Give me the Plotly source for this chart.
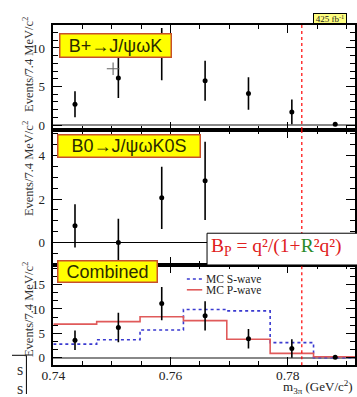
import plotly.graph_objects as go

W, H = 357, 397

# ---------------- data ----------------
bin_centers = [0.7437, 0.7511, 0.7585, 0.7659, 0.7733, 0.7807, 0.7881]
bin_edges = [0.7400, 0.7474, 0.7548, 0.7622, 0.7696, 0.7770, 0.7844, 0.7918]

bplus_y = [2.7, 6.1, 9.2, 5.75, 4.1, 1.7, 0.1]
bplus_err = [1.7, 2.6, 3.4, 2.6, 2.1, 1.6, 0.0]
bplus_extra_x = [0.7502]
bplus_extra_y = [7.3]

b0_x = [0.7437, 0.7511, 0.7585, 0.7659]
b0_y = [0.77, 0.0, 2.06, 2.84]
b0_err = [1.0, 1.1, 1.43, 1.8]

comb_y = [3.6, 6.2, 11.1, 8.6, 3.9, 1.9, 0.1]
comb_err = [2.0, 3.0, 3.4, 3.0, 2.0, 1.9, 0.0]

mc_swave = [2.8, 3.7, 5.7, 9.9, 9.6, 3.1, 0.0]
mc_pwave = [6.9, 7.4, 8.4, 7.6, 3.8, 0.9, 0.2]

kin_limit = 0.7824

x_ticks = [0.74, 0.76, 0.78]
x_ticktext = ["0.74", "0.76", "0.78"]
y1_ticks = [0, 5, 10]
y2_ticks = [0, 2, 4]
y3_ticks = [0, 5, 10, 15]

# ---------------- helpers ----------------
def px(xp):
    return xp / W

def py(yp):
    return 1 - yp / H

SERIF = "Liberation Serif"
SANS = "Liberation Sans"

fig = go.Figure()

def points(x, y, err, xa, ya):
    fig.add_trace(go.Scatter(
        x=x, y=y, mode="markers", xaxis=xa, yaxis=ya, showlegend=False,
        marker=dict(color="black", size=5),
        error_y=dict(type="data", array=err, visible=True, color="black",
                     thickness=1.6, width=0),
        cliponaxis=True))

def hist(vals, color, dash, xa, ya):
    fig.add_trace(go.Scatter(
        x=bin_edges, y=list(vals) + [vals[-1]], mode="lines",
        line=dict(shape="hv", color=color, width=1.6, dash=dash),
        xaxis=xa, yaxis=ya, showlegend=False))

# panel 1
points(bin_centers, bplus_y, bplus_err, "x", "y")
fig.add_trace(go.Scatter(x=bplus_extra_x, y=bplus_extra_y, mode="markers",
                         xaxis="x", yaxis="y", showlegend=False,
                         marker=dict(symbol="cross-thin", size=9,
                                     line=dict(width=1.1, color="#666"))))
# panel 2
points(b0_x, b0_y, b0_err, "x2", "y2")
# panel 3
hist(mc_swave, "#3a3ad0", "dot", "x3", "y3")
hist(mc_pwave, "#e05a5a", "solid", "x3", "y3")
points(bin_centers, comb_y, comb_err, "x3", "y3")

XR = [0.74, 0.74 + 314 / 6100]

def xax(anchor, labels):
    return dict(
        domain=[px(43), 1.0], range=XR, anchor=anchor,
        tickmode="array", tickvals=x_ticks, ticktext=x_ticktext,
        showticklabels=labels, ticks="inside", ticklen=8, tickwidth=1,
        tickcolor="black",
        minor=dict(tickmode="linear", tick0=0.74, dtick=0.005, ticks="inside",
                   ticklen=4, tickwidth=1, tickcolor="black"),
        showline=True, linecolor="black", linewidth=1.5, mirror="ticks",
        showgrid=False, zeroline=False, ticklabelstandoff=-3,
        tickfont=dict(family=SERIF, size=13.5, color="#222"))

def yax(top, bot, rng, tickvals, mdt, anchor, zc, zw):
    return dict(
        domain=[py(bot), py(top)], range=rng, anchor=anchor,
        tickmode="array", tickvals=tickvals,
        ticks="inside", ticklen=9, tickwidth=1, tickcolor="black",
        minor=dict(tickmode="linear", tick0=0, dtick=mdt, ticks="inside",
                   ticklen=5, tickwidth=1, tickcolor="black"),
        showline=True, linecolor="black", linewidth=1.5, mirror="ticks",
        showgrid=False, zeroline=True, zerolinecolor=zc, zerolinewidth=zw,
        ticklabelstandoff=4,
        tickfont=dict(family=SERIF, size=13, color="#222"))

fig.update_layout(
    width=W, height=H, margin=dict(l=0, r=0, t=0, b=0),
    paper_bgcolor="white", plot_bgcolor="white", showlegend=False,
    xaxis=xax("y", False),
    xaxis2=xax("y2", False),
    xaxis3=xax("y3", True),
    yaxis=yax(25, 131, [-0.64, 13.0], y1_ticks, 1, "x", "#888", 2),
    yaxis2=yax(131, 267, [-1.03, 5.18], y2_ticks, 0.5, "x2", "black", 1.2),
    yaxis3=yax(267, 368, [-1.52, 19.0], y3_ticks, 5 / 3, "x3", "#888", 2),
)

shapes = []
for xa, ya in [("x", "y"), ("x2", "y2"), ("x3", "y3")]:
    shapes.append(dict(type="line", xref=xa, yref=ya + " domain",
                       x0=kin_limit, x1=kin_limit, y0=0, y1=1,
                       line=dict(color="red", width=1.2, dash="dot")))
# formula box
shapes.append(dict(type="rect", xref="paper", yref="paper",
                   x0=px(203), x1=px(400), y0=py(267), y1=py(235),
                   fillcolor="white", line=dict(color="black", width=1),
                   layer="above"))
# legend lines
shapes.append(dict(type="line", xref="paper", yref="paper",
                   x0=px(182), x1=px(198), y0=py(281), y1=py(281),
                   line=dict(color="#3a3ad0", width=1.5, dash="dot"), layer="above"))
shapes.append(dict(type="line", xref="paper", yref="paper",
                   x0=px(182), x1=px(198), y0=py(292), y1=py(292),
                   line=dict(color="#e05a5a", width=1.6), layer="above"))
# neighbour-figure remnants at lower left
shapes.append(dict(type="line", xref="paper", yref="paper",
                   x0=0, x1=px(15), y0=py(358), y1=py(358),
                   line=dict(color="black", width=1)))
shapes.append(dict(type="line", xref="paper", yref="paper",
                   x0=px(15), x1=px(15), y0=py(358), y1=0,
                   line=dict(color="black", width=1)))
fig.update_layout(shapes=shapes)

ann = []
ytitle = "Events/7.4 MeV/c<sup>2</sup>"
for yc in [65, 170, 312]:
    ann.append(dict(xref="paper", yref="paper", x=px(16), y=py(yc),
                    text=ytitle, textangle=-90, showarrow=False,
                    xanchor="center", yanchor="middle",
                    font=dict(family=SERIF, size=12.5, color="#333")))

def labelbox(x0, y0, w, h, text):
    ann.append(dict(xref="paper", yref="paper", x=px(x0), y=py(y0),
                    xanchor="left", yanchor="top", text=text, showarrow=False,
                    width=w, height=h, align="center", valign="middle",
                    bgcolor="#ffff00", bordercolor="#c8502a", borderwidth=1.5,
                    borderpad=0, font=dict(family=SANS, size=18, color="#2b2b00")))

labelbox(49, 33, 110, 22, "B+→J/ψωK")
labelbox(47, 135, 141, 21, "B0→J/ψωK0S")
labelbox(47, 262, 98, 20, "Combined")

ann.append(dict(xref="paper", yref="paper", x=px(313), y=py(13),
                xanchor="left", yanchor="top", text="425 fb<sup>-1</sup>",
                showarrow=False, width=31, height=8, borderpad=0.5,
                bgcolor="#ffff80", bordercolor="black", borderwidth=1,
                font=dict(family=SERIF, size=9, color="#222")))

ann.append(dict(xref="paper", yref="paper", x=px(205), y=py(249),
                xanchor="left", yanchor="middle", showarrow=False,
                text=("B<sub>P</sub> = q²/(1+<span style='color:#2a8a2a'>R</span>"
                      "²q²)"),
                font=dict(family=SERIF, size=19.5, color="#e02020")))

ann.append(dict(xref="paper", yref="paper", x=px(200), y=py(281),
                xanchor="left", yanchor="middle", showarrow=False,
                text="MC S-wave", font=dict(family=SERIF, size=11.5, color="#222")))
ann.append(dict(xref="paper", yref="paper", x=px(200), y=py(292),
                xanchor="left", yanchor="middle", showarrow=False,
                text="MC P-wave", font=dict(family=SERIF, size=11.5, color="#222")))

ann.append(dict(xref="paper", yref="paper", x=px(356), y=py(390),
                xanchor="right", yanchor="middle", showarrow=False,
                borderpad=0,
                text="m<sub>3π</sub> (GeV/c<sup>2</sup>)",
                font=dict(family=SERIF, size=13, color="#222")))

for yc in [372, 391]:
    ann.append(dict(xref="paper", yref="paper", x=px(8), y=py(yc),
                    xanchor="center", yanchor="middle", showarrow=False,
                    text="s", font=dict(family=SERIF, size=16, color="#333")))

fig.update_layout(annotations=ann)

fig.write_html("out.html",
               config={"displayModeBar": False},
               post_script="document.body.style.margin='0';"
                           "document.body.style.padding='0';"
                           "document.body.style.overflow='hidden';")
